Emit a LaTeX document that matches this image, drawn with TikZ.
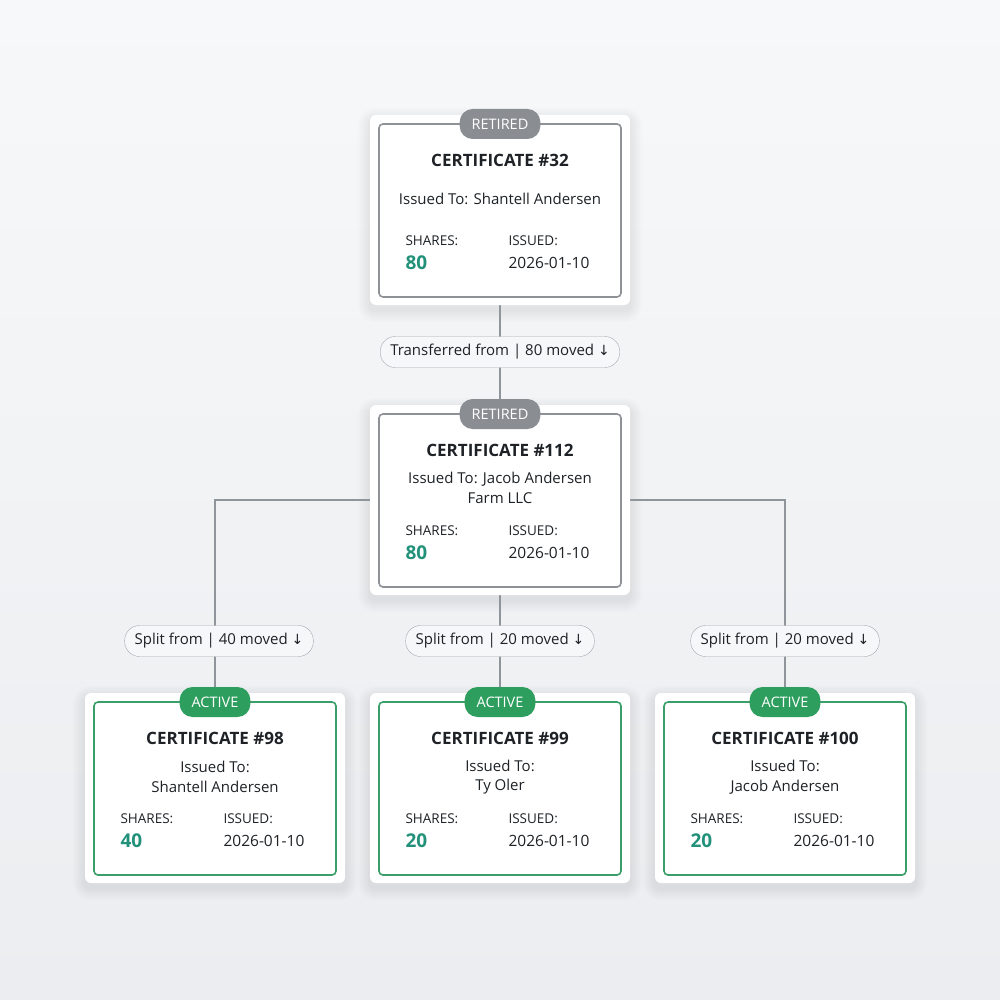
\documentclass[tikz,border=0pt]{standalone}
\usepackage{fontspec}
\setmainfont{Open Sans}
\pgfdeclarelayer{bg}\pgfdeclarelayer{back}
\pgfsetlayers{back,bg,main}
\definecolor{grayb}{HTML}{8A8E93}
\definecolor{grayl}{HTML}{8E9297}
\definecolor{greenb}{HTML}{2E9E5E}
\definecolor{greenl}{HTML}{3A9E68}
\definecolor{teal}{HTML}{22917A}
\definecolor{ink}{HTML}{1E2226}
\definecolor{conn}{HTML}{8F959B}
\definecolor{bgt}{HTML}{F7F8F9}
\definecolor{bgb}{HTML}{EBEDF0}
\definecolor{pillf}{HTML}{F6F7F8}
\tikzset{
 outer/.style={draw=none,fill=white,rounded corners=6pt,minimum width=260pt,minimum height=190pt,inner sep=0pt},
 inner/.style={draw=#1,line width=1.6pt,rounded corners=4pt},
 badge/.style={fill=#1,text=white,rounded corners=13pt,minimum height=30pt,font=\fontsize{14.5}{16}\selectfont,inner xsep=12pt},
 ttl/.style={font=\fontsize{17}{19}\selectfont\bfseries,text=ink},
 body/.style={font=\fontsize{15}{19.5}\selectfont,text=ink,align=center},
 small/.style={font=\fontsize{13.5}{15}\selectfont,text=ink,anchor=west},
 val/.style={font=\fontsize{19}{21}\selectfont\bfseries,text=teal,anchor=west},
 date/.style={font=\fontsize{15.5}{17}\selectfont,text=ink,anchor=west},
 pill/.style={draw=conn!80,fill=pillf,rounded corners=15pt,minimum height=31pt,font=\fontsize{15}{16}\selectfont,text=ink,inner xsep=10pt},
 cn/.style={draw=conn,line width=1.2pt},
}
\newcommand\arr{{\fontspec{DejaVu Sans}\fontsize{14}{15}\selectfont↓}}
% #1 name #2 cx #3 top #4 colour #5 badge colour #6 badge text #7 title #8 issued y #9 shares
\newcommand\mycard[9]{%
 \begin{pgfonlayer}{bg}
 \foreach \s in {12,10,8,6,4,2}{\fill[black,opacity=0.012,rounded corners=6pt+\s] (#2-130-\s,#3-\s+5) rectangle (#2+130+\s,#3+190+\s+5);}
 \end{pgfonlayer}
 \node[outer] (#1) at (#2,#3+95) {};
 \draw[inner=#4] (#2-121,#3+9) rectangle (#2+121,#3+182);
 \node[badge=#5] (#1b) at (#2,#3+9) {#6};
 \node[ttl] (#1t) at (#2,#3+45) {#7};
 \node[body] (#1i) at (#2,#3+#8) {\csname issued#1\endcsname};
 \node[small] (#1s) at (#2-98,#3+126) {SHARES:};
 \node[val] (#1v) at (#2-98,#3+148) {#9};
 \node[small] (#1d) at (#2+5,#3+126) {ISSUED:};
 \node[date] (#1e) at (#2+5,#3+148) {2026-01-10};
}
\begin{document}
\begin{tikzpicture}[x=1pt,y=-1pt]
\useasboundingbox (0,0) rectangle (1000,1000);
\begin{pgfonlayer}{back}
\shade[top color=bgt, bottom color=bgb] (0,0) rectangle (1000,1000);
\end{pgfonlayer}
\expandafter\def\csname issueda\endcsname{Issued To: Shantell Andersen}
\expandafter\def\csname issuedb\endcsname{Issued To: Jacob Andersen\\Farm LLC}
\expandafter\def\csname issuedc\endcsname{Issued To:\\Shantell Andersen}
\expandafter\def\csname issuedd\endcsname{Issued To:\\Ty Oler}
\expandafter\def\csname issuede\endcsname{Issued To:\\Jacob Andersen}
\mycard{a}{500}{115}{grayl}{grayb}{RETIRED}{CERTIFICATE \#32}{84}{80}
\mycard{b}{500}{405}{grayl}{grayb}{RETIRED}{CERTIFICATE \#112}{83}{80}
\mycard{c}{215}{693}{greenl}{greenb}{ACTIVE}{CERTIFICATE \#98}{84}{40}
\mycard{d}{500}{693}{greenl}{greenb}{ACTIVE}{CERTIFICATE \#99}{84}{20}
\mycard{e}{785}{693}{greenl}{greenb}{ACTIVE}{CERTIFICATE \#100}{84}{20}
\node[pill] (p1) at (500,352) {Transferred from | 80 moved \arr};
\node[pill] (p2) at (219,641) {Split from | 40 moved \arr};
\node[pill] (p3) at (500,641) {Split from | 20 moved \arr};
\node[pill] (p4) at (785,641) {Split from | 20 moved \arr};
\coordinate (jl) at (215,500);
\coordinate (jr) at (785,500);
\begin{pgfonlayer}{bg}
\draw[cn] (a.south) -- (b.north);
\draw[cn] (b.south) -- (d.north);
\draw[cn] (b.west |- jl) -- (jl) -- (c.north);
\draw[cn] (b.east |- jr) -- (jr) -- (e.north);
\end{pgfonlayer}
\end{tikzpicture}
\end{document}
